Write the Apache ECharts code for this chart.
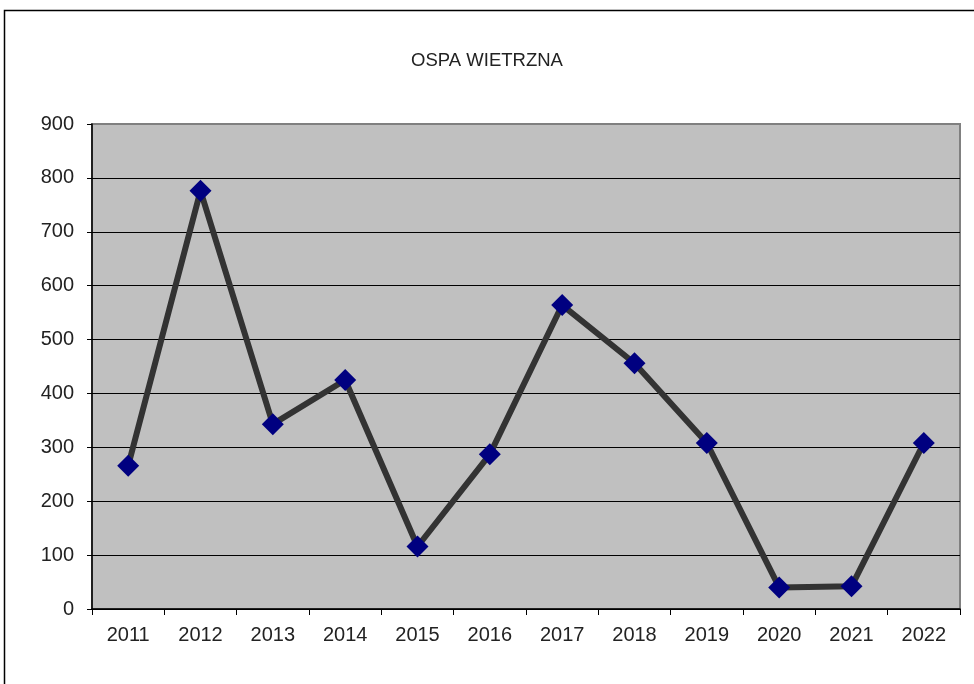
<!DOCTYPE html>
<html>
<head>
<meta charset="utf-8">
<script src="https://cdn.jsdelivr.net/npm/echarts@6/dist/echarts.min.js"></script>
<style>
  html, body { margin: 0; padding: 0; background: #fff; }
  #chart { width: 974px; height: 684px; }
</style>
</head>
<body>
<div id="chart"></div>
<script>
// lata
const years = ['2011', '2012', '2013', '2014', '2015', '2016', '2017', '2018', '2019', '2020', '2021', '2022']
// liczba zachorowań
const cases = [266, 776, 343, 425, 116, 287, 564, 456, 308, 40, 42, 308]
const chartTitle = 'OSPA WIETRZNA'

const chart = echarts.init(document.getElementById('chart'), null, { renderer: 'canvas' })

// linie siatki czarne, górna krawędź szara
const splitColors = ['#000', '#000', '#000', '#000', '#000', '#000', '#000', '#000', '#000', '#808080']

chart.setOption({
  animation: false,
  backgroundColor: '#fff',
  textStyle: { fontFamily: 'Liberation Sans, Arial, sans-serif' },
  title: {
    text: chartTitle,
    left: 'center',
    top: 46,
    textStyle: { fontSize: 18.5, fontWeight: 'normal', color: '#222' }
  },
  graphic: [
    {
      type: 'rect',
      shape: { x: 4.5, y: 10.5, width: 990, height: 700 },
      style: { fill: 'none', stroke: '#000', lineWidth: 1.5 },
      silent: true
    }
  ],
  grid: {
    left: 92,
    top: 124,
    right: 14,
    bottom: 75,
    show: true,
    backgroundColor: '#c0c0c0',
    borderColor: '#808080',
    borderWidth: 2
  },
  xAxis: {
    type: 'category',
    data: years,
    boundaryGap: true,
    axisLine: { lineStyle: { color: '#000', width: 1.5 } },
    axisTick: { show: true, alignWithLabel: false, length: 6, lineStyle: { color: '#000' } },
    axisLabel: { color: '#222', fontSize: 20, margin: 16 },
    splitLine: { show: false }
  },
  yAxis: {
    type: 'value',
    min: 0,
    max: 900,
    interval: 100,
    axisLine: { show: true, lineStyle: { color: '#000', width: 1.5 } },
    axisTick: { show: true, length: 5, lineStyle: { color: '#000' } },
    axisLabel: { color: '#222', fontSize: 20, margin: 18 },
    splitLine: { show: true, lineStyle: { color: splitColors, width: 1.2 } }
  },
  series: [
    {
      type: 'line',
      data: cases,
      symbol: 'diamond',
      symbolSize: 22,
      itemStyle: { color: '#000080' },
      lineStyle: { color: '#333333', width: 6 },
      z: 3
    }
  ]
})
</script>
</body>
</html>
